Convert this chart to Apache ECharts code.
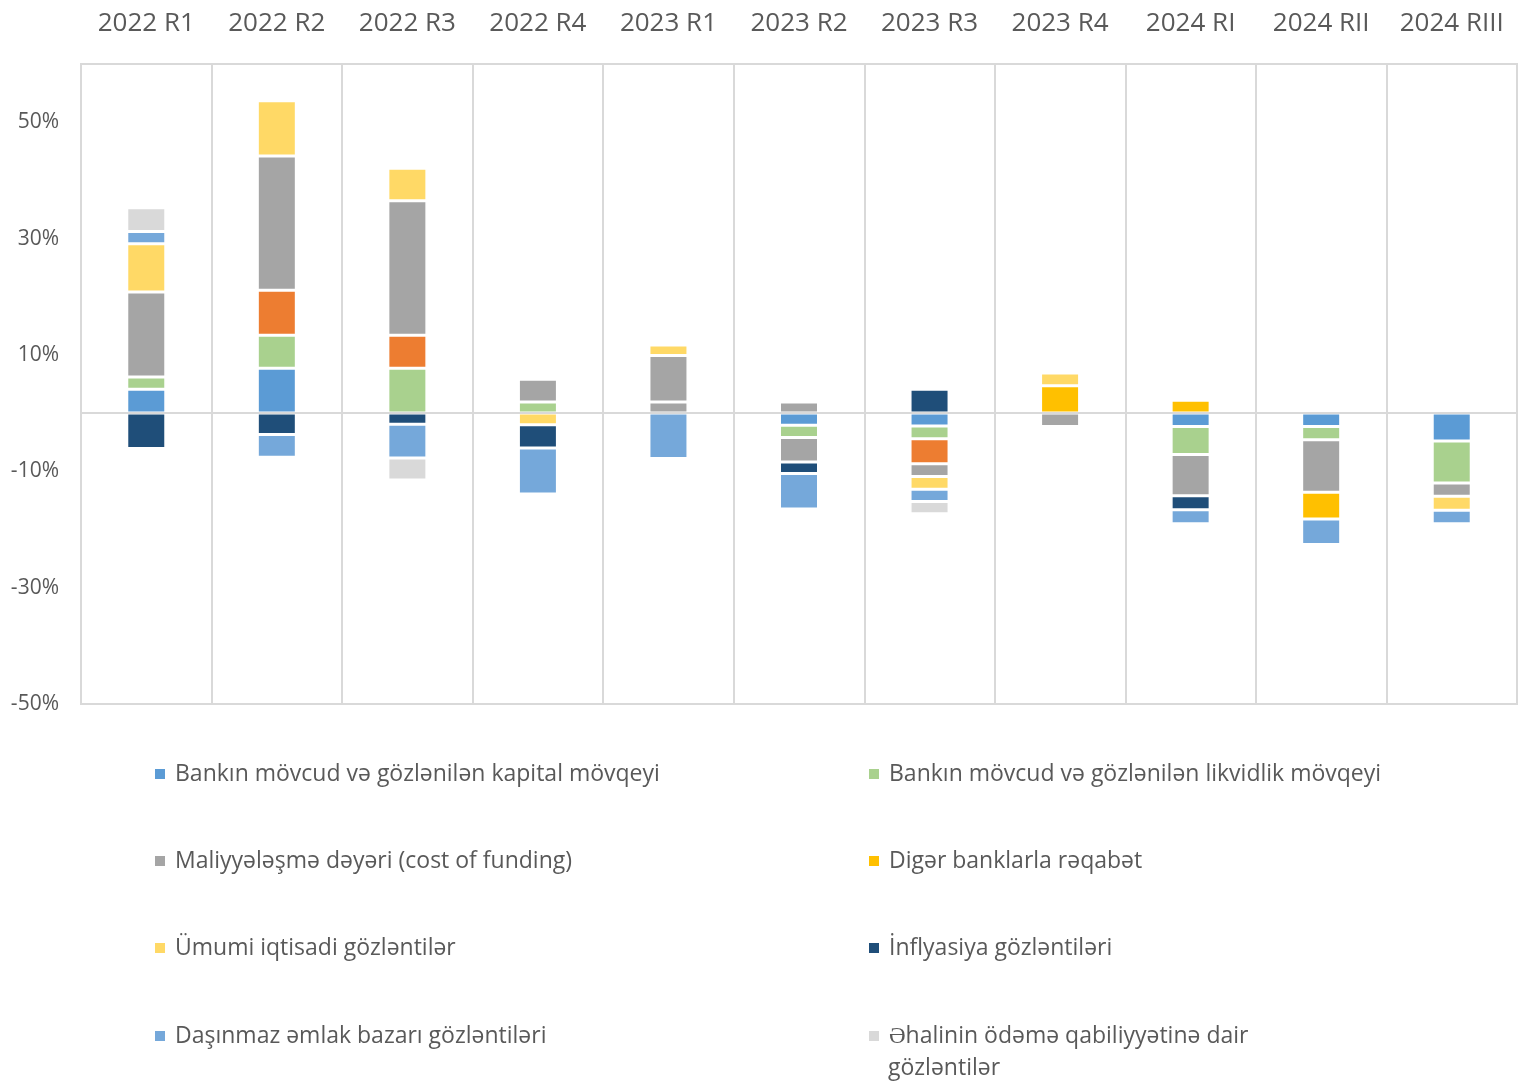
<!DOCTYPE html>
<html>
<head>
<meta charset="utf-8">
<script src="https://cdn.jsdelivr.net/npm/echarts@6/dist/echarts.min.js"></script>
<style>html,body{margin:0;padding:0;background:#fff}#c{width:1519px;height:1081px}</style>
</head>
<body>
<div id="c"></div>
<script>
const categories = ['2022 R1','2022 R2','2022 R3','2022 R4','2023 R1','2023 R2','2023 R3','2023 R4','2024 RI','2024 RII','2024 RIII'];
const capital     = [4.1, 7.7, 0, 0, 0, -2.1, -2.2, 0, -2.3, -2.3, -4.8];
const liquidity   = [2.1, 5.7, 7.7, 1.9, 0, -2.1, -2.2, 0, -4.8, -2.3, -7.2];
const otherOrange = [0, 7.7, 5.7, 0, 0, 0, -4.3, 0, 0, 0, 0];
const otherGray   = [0, 0, 0, 0, 1.9, 1.9, 0, 0, 0, 0, 0];
const cost        = [14.6, 23.1, 23.1, 3.9, 8.0, -4.2, -2.2, -2.3, -7.1, -9.0, -2.3];
const competition = [0, 0, 0, 0, 0, 0, 0, 4.7, 2.2, -4.6, 0];
const general     = [8.3, 9.5, 5.6, -2.0, 1.8, 0, -2.2, 2.2, 0, 0, -2.4];
const inflation   = [-6.1, -3.7, -1.9, -4.0, 0, -2.0, 4.1, 0, -2.4, 0, 0];
const realEstate  = [2.1, -3.9, -5.8, -7.9, -7.8, -6.1, -2.1, 0, -2.4, -4.4, -2.3];
const population  = [4.1, 0, -3.8, 0, 0, 0, -2.1, 0, 0, 0, 0];

const names = {
  capital: 'Bankın mövcud və gözlənilən kapital mövqeyi',
  liquidity: 'Bankın mövcud və gözlənilən likvidlik mövqeyi',
  orange: 'Digər amillər',
  gray: 'Digər',
  cost: 'Maliyyələşmə dəyəri (cost of funding)',
  competition: 'Digər banklarla rəqabət',
  general: 'Ümumi iqtisadi gözləntilər',
  inflation: 'İnflyasiya gözləntiləri',
  realEstate: 'Daşınmaz əmlak bazarı gözləntiləri',
  population: 'Əhalinin ödəmə qabiliyyətinə dair gözləntilər'
};
const populationLine1 = 'Əhalinin ödəmə qabiliyyətinə dair';
const populationLine2 = 'gözləntilər';

const FONT = 'Open Sans';
const clean = a => a.map(v => v === 0 ? '-' : v);
function bar(name, data, color) {
  return {
    name, type: 'bar', stack: 'total', data: clean(data), barWidth: 39, z: 3,
    itemStyle: { color, borderColor: '#fff', borderWidth: 1.5 },
    emphasis: { disabled: true }
  };
}
const legendTextStyle = { fontFamily: FONT, fontSize: 23, color: '#595959', lineHeight: 32, padding: [0, 0, 0, 4] };
function leg(name, left, centerY, extra) {
  return Object.assign({
    left, top: centerY - 16, padding: 0, itemWidth: 12, itemHeight: 12, icon: 'rect',
    selectedMode: false, textStyle: legendTextStyle, data: [name]
  }, extra || {});
}

const chart = echarts.init(document.getElementById('c'));
chart.setOption({
  animation: false,
  textStyle: { fontFamily: FONT },
  grid: { left: 81, right: 2, top: 64, bottom: 377, show: true, borderColor: '#D9D9D9', borderWidth: 2 },
  xAxis: {
    type: 'category', data: categories, position: 'top',
    axisLine: { show: false }, axisTick: { show: false },
    axisLabel: { interval: 0, fontFamily: FONT, fontSize: 26, color: '#595959', margin: 27 },
    splitLine: { show: true, interval: 0, lineStyle: { color: '#D9D9D9', width: 2 } }
  },
  yAxis: {
    type: 'value', min: -50, max: 60, interval: 20,
    axisLine: { show: false }, axisTick: { show: false }, splitLine: { show: false },
    axisLabel: { fontFamily: FONT, fontSize: 21, color: '#595959', margin: 22, showMaxLabel: false, formatter: '{value}%' }
  },
  legend: [
    leg(names.capital, 153, 774),
    leg(names.cost, 153, 861),
    leg(names.general, 153, 948),
    leg(names.realEstate, 153, 1036),
    leg(names.liquidity, 867, 774),
    leg(names.competition, 867, 861),
    leg(names.inflation, 867, 948),
    leg(names.population, 867, 1036, { formatter: () => populationLine1 })
  ],
  graphic: [{
    type: 'text', left: 888, top: 1052,
    style: { text: populationLine2, font: '23px "Open Sans"', fill: '#595959', lineHeight: 32 }
  }],
  series: [
    { type: 'line', data: [], z: 1, silent: true,
      markLine: { silent: true, symbol: 'none', label: { show: false },
        lineStyle: { color: '#D9D9D9', width: 2, type: 'solid' }, data: [{ yAxis: 0 }] } },
    bar(names.capital, capital, '#5B9BD5'),
    bar(names.liquidity, liquidity, '#A9D18E'),
    bar(names.orange, otherOrange, '#ED7D31'),
    bar(names.gray, otherGray, '#A5A5A5'),
    bar(names.cost, cost, '#A5A5A5'),
    bar(names.competition, competition, '#FFC000'),
    bar(names.general, general, '#FFD966'),
    bar(names.inflation, inflation, '#1F4E79'),
    bar(names.realEstate, realEstate, '#75A8DA'),
    bar(names.population, population, '#D9D9D9')
  ]
});
</script>
</body>
</html>
